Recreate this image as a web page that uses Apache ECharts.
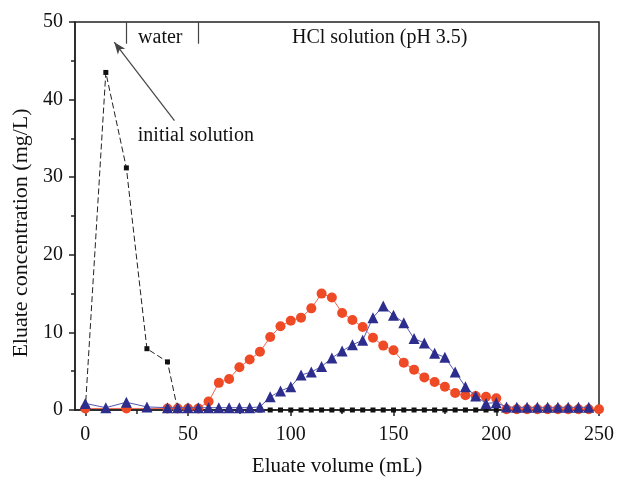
<!DOCTYPE html>
<html>
<head>
<meta charset="utf-8">
<script src="https://cdn.jsdelivr.net/npm/echarts@6/dist/echarts.min.js"></script>
<style>html,body{margin:0;padding:0;background:#fff;}#c{width:618px;height:478px;}</style>
</head>
<body>
<div id="c"></div>
<script>
// ---- data ----
const xLabels = [0, 50, 100, 150, 200, 250];
const xMinorTicks = [25, 75, 125, 175, 225];

const volBlack = [0, 10, 20, 30, 40, 45, 50, 55, 60, 65, 70, 75, 80, 85, 90, 95, 100, 105, 110, 115, 120, 125, 130, 135, 140, 145, 150, 155, 160, 165, 170, 175, 180, 185, 190, 195, 200];
const concBlack = [0, 43.5, 31.2, 7.9, 6.2, 0, 0, 0, 0, 0, 0, 0, 0, 0, 0, 0, 0, 0, 0, 0, 0, 0, 0, 0, 0, 0, 0, 0, 0, 0, 0, 0, 0, 0, 0, 0, 0];

const volRed = [0, 20, 40, 45, 50, 55, 60, 65, 70, 75, 80, 85, 90, 95, 100, 105, 110, 115, 120, 125, 130, 135, 140, 145, 150, 155, 160, 165, 170, 175, 180, 185, 190, 195, 200, 205, 210, 215, 220, 225, 230, 235, 240, 245, 250];
const concRed = [0.2, 0.2, 0.2, 0.2, 0.2, 0.2, 1.1, 3.5, 4.0, 5.5, 6.5, 7.5, 9.4, 10.8, 11.5, 11.9, 13.1, 15.0, 14.5, 12.5, 11.6, 10.7, 9.3, 8.3, 7.7, 6.1, 5.2, 4.2, 3.6, 3.0, 2.2, 1.9, 1.8, 1.7, 1.5, 0.1, 0.1, 0.1, 0.1, 0.1, 0.1, 0.1, 0.1, 0.1, 0.1];

const volBlue = [0, 10, 20, 30, 40, 45, 50, 55, 60, 65, 70, 75, 80, 85, 90, 95, 100, 105, 110, 115, 120, 125, 130, 135, 140, 145, 150, 155, 160, 165, 170, 175, 180, 185, 190, 195, 200, 205, 210, 215, 220, 225, 230, 235, 240, 245];
const concBlue = [0.85, 0.3, 1.0, 0.4, 0.3, 0.3, 0.3, 0.3, 0.3, 0.3, 0.3, 0.3, 0.3, 0.4, 1.7, 2.45, 3.0, 4.5, 4.9, 5.6, 6.7, 7.6, 8.4, 9.0, 11.9, 13.4, 12.2, 11.25, 9.2, 8.65, 7.3, 6.8, 4.9, 3.0, 1.8, 0.85, 0.95, 0.4, 0.35, 0.35, 0.35, 0.35, 0.35, 0.35, 0.35, 0.35];

// annotations (data coordinates)
const bracketTicks = [[20, 50, 47.2], [55, 50, 47.2]];
const arrowFrom = [43.4, 37.3];
const arrowTo = [14.1, 47.4];
const annotationTexts = [
  { name: 'water', pos: [36.5, 48.0] },
  { name: 'HCl solution (pH 3.5)', pos: [143.3, 48.0] },
  { name: 'initial solution', pos: [53.8, 35.4] }
];

const FONT = 'Liberation Serif';
const zip = (a, b) => a.map((v, i) => [v, b[i]]);

const chart = echarts.init(document.getElementById('c'), null, { renderer: 'canvas' });
const option = {
  backgroundColor: '#fff',
  animation: false,
  grid: { left: 75, right: 19, top: 22, bottom: 68, containLabel: false, outerBoundsMode: 'none', show: true, borderColor: '#222', borderWidth: 1.5, backgroundColor: 'transparent' },
  xAxis: [
    {
      type: 'value', min: -5, max: 250,
      name: 'Eluate volume (mL)', nameLocation: 'middle', nameGap: 46,
      nameTextStyle: { fontFamily: FONT, fontSize: 21, color: '#111' },
      axisLine: { onZero: false, lineStyle: { color: '#222', width: 1.5 } },
      axisTick: { show: true, length: 6, customValues: xLabels, lineStyle: { color: '#222', width: 1.5 } },
      axisLabel: { customValues: xLabels, fontFamily: FONT, fontSize: 20, color: '#111', margin: 15 },
      splitLine: { show: false }
    },
    {
      type: 'value', min: -5, max: 250, position: 'bottom',
      axisLine: { show: false },
      axisTick: { show: true, length: 4, customValues: xMinorTicks, lineStyle: { color: '#222', width: 1.5 } },
      axisLabel: { show: false },
      splitLine: { show: false }
    }
  ],
  yAxis: {
    type: 'value', min: 0, max: 50, interval: 10,
    name: 'Eluate concentration (mg/L)', nameLocation: 'middle', nameGap: 41,
    nameTextStyle: { fontFamily: FONT, fontSize: 22, color: '#111', padding: [0, 34, 0, 0] },
    axisLine: { show: true, onZero: false, lineStyle: { color: '#222', width: 1.5 } },
    axisTick: { show: true, length: 6, lineStyle: { color: '#222', width: 1.5 } },
    minorTick: { show: true, splitNumber: 2, length: 4, lineStyle: { color: '#222', width: 1.5 } },
    axisLabel: { fontFamily: FONT, fontSize: 20, color: '#111', margin: 12 },
    splitLine: { show: false }
  },
  series: [
    {
      name: 'black', type: 'line', xAxisIndex: 0, data: zip(volBlack, concBlack),
      symbol: 'rect', symbolSize: 5,
      itemStyle: { color: '#111' },
      lineStyle: { color: '#222', width: 1, type: [6, 3] },
      z: 2
    },
    {
      name: 'red', type: 'line', xAxisIndex: 0, data: zip(volRed, concRed),
      symbol: 'circle', symbolSize: 10,
      itemStyle: { color: '#ef4a26' },
      lineStyle: { color: '#ee6650', width: 1 },
      z: 3
    },
    {
      name: 'blue', type: 'line', xAxisIndex: 0, data: zip(volBlue, concBlue),
      symbol: 'triangle', symbolSize: 11,
      itemStyle: { color: '#2c2d8c' },
      lineStyle: { color: '#5557ae', width: 1 },
      z: 4
    },
    {
      name: 'annotations', type: 'line', xAxisIndex: 0, silent: true,
      data: [],
      markLine: {
        silent: true, symbol: ['none', 'none'], animation: false,
        label: { show: false },
        lineStyle: { color: '#444', width: 1.2, type: 'solid' },
        data: bracketTicks.map(t => [{ coord: [t[0], t[1]] }, { coord: [t[0], t[2]] }]).concat([
          [{ coord: arrowFrom, symbol: 'none' }, { coord: arrowTo, symbol: 'arrow', symbolSize: [7, 12] }]
        ])
      },
      z: 5
    }
  ]
};
chart.setOption(option);

// annotation texts placed through the chart's own coordinate conversion
const graphics = annotationTexts.map(t => {
  const p = chart.convertToPixel({ xAxisIndex: 0, yAxisIndex: 0 }, t.pos);
  return {
    type: 'text', x: p[0], y: p[1], silent: true, z: 10,
    style: { text: t.name, fontFamily: FONT, fontSize: 20, fill: '#111', align: 'center', verticalAlign: 'middle' }
  };
});
chart.setOption({ graphic: graphics });
</script>
</body>
</html>
